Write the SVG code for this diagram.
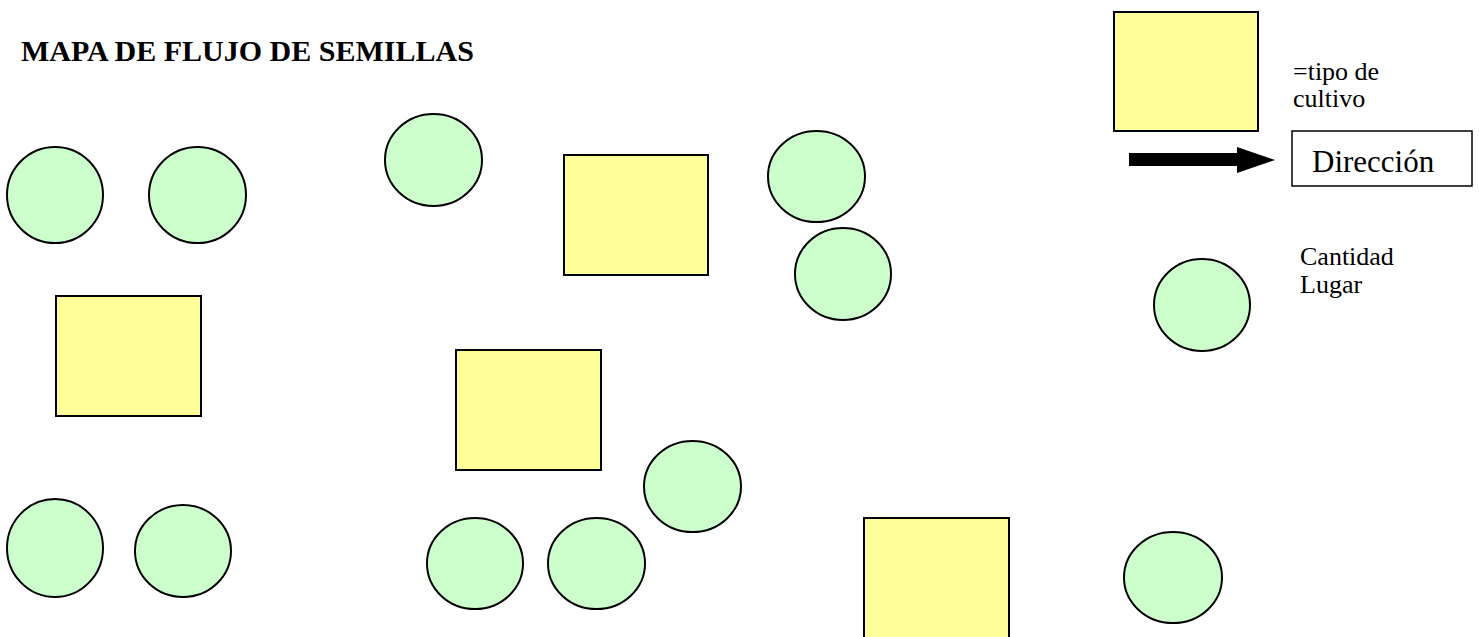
<svg xmlns="http://www.w3.org/2000/svg" width="1479" height="637" viewBox="0 0 1479 637">
<style>
.c{fill:#CCFFCC;stroke:#000;stroke-width:2}
.r{fill:#FFFF99;stroke:#000;stroke-width:2}
text{fill:#000}
</style>
<rect width="1479" height="637" fill="#fff"/>
<text id="title" font-family="'Liberation Serif', 'Times New Roman', serif" x="21" y="61" font-size="30" font-weight="bold">MAPA DE FLUJO DE SEMILLAS</text>
<g id="c1"><ellipse class="c" cx="55" cy="195" rx="48" ry="48"/></g>
<g id="c2"><ellipse class="c" cx="197.5" cy="195" rx="48.5" ry="48"/></g>
<g id="r1"><rect class="r" x="56" y="296" width="145" height="120"/></g>
<g id="c3"><ellipse class="c" cx="55" cy="548" rx="48" ry="49"/></g>
<g id="c4"><ellipse class="c" cx="183" cy="551" rx="48" ry="46"/></g>
<g id="c5"><ellipse class="c" cx="433.5" cy="160" rx="48.5" ry="46"/></g>
<g id="r2"><rect class="r" x="564" y="155" width="144" height="120"/></g>
<g id="c6"><ellipse class="c" cx="816.5" cy="176.5" rx="48.5" ry="45.5"/></g>
<g id="c7"><ellipse class="c" cx="843" cy="274" rx="48" ry="46"/></g>
<g id="r3"><rect class="r" x="456" y="350" width="145" height="120"/></g>
<g id="c8"><ellipse class="c" cx="692.5" cy="486.5" rx="48.5" ry="45.5"/></g>
<g id="c9"><ellipse class="c" cx="475" cy="563.5" rx="48" ry="45.5"/></g>
<g id="c10"><ellipse class="c" cx="596.5" cy="563.5" rx="48.5" ry="45.5"/></g>
<g id="r4"><rect class="r" x="864" y="518" width="145" height="121"/></g>
<g id="c11"><ellipse class="c" cx="1173" cy="577.5" rx="49" ry="45.5"/></g>
<g id="legend-crop">
<rect class="r" x="1114" y="12" width="144" height="119"/>
<text font-family="'Liberation Serif', 'Times New Roman', serif" x="1293" y="80" font-size="26">=tipo de</text>
<text font-family="'Liberation Serif', 'Times New Roman', serif" x="1293" y="107" font-size="26">cultivo</text>
</g>
<g id="connectors">
<polygon points="1129,153 1237,153 1237,147 1275,160 1237,173 1237,166 1129,166" fill="#000"/>
</g>
<g id="legend-direction">
<rect x="1292" y="131" width="180" height="55" fill="#fff" stroke="#000" stroke-width="1.5"/>
<text font-family="'Liberation Serif', 'Times New Roman', serif" x="1312" y="172" font-size="31">Dirección</text>
</g>
<g id="legend-place">
<ellipse class="c" cx="1202" cy="305" rx="48" ry="46"/>
<text font-family="'Liberation Serif', 'Times New Roman', serif" x="1300" y="265" font-size="26">Cantidad</text>
<text font-family="'Liberation Serif', 'Times New Roman', serif" x="1300" y="293" font-size="26">Lugar</text>
</g>
</svg>
